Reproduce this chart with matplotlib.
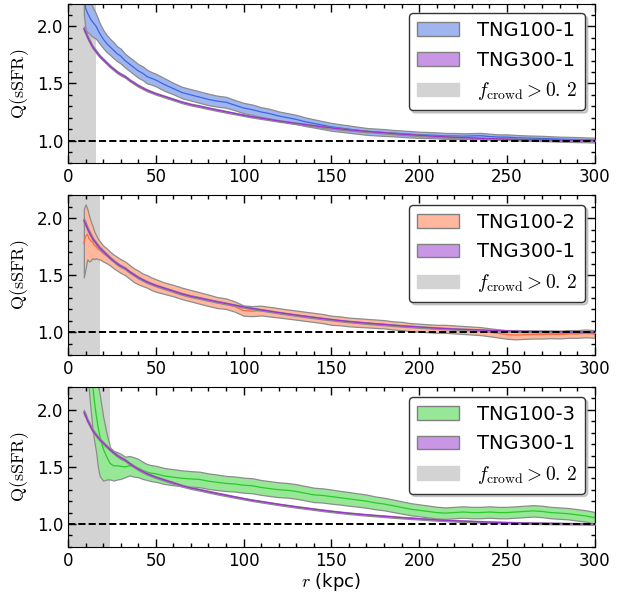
"""
Radial profiles of the quenching ratio Q(sSFR) around host galaxies,
TNG100 runs at three resolutions compared against TNG300-1.
"""
import matplotlib.pyplot as plt
from matplotlib.patches import Patch

plt.rcParams['mathtext.fontset'] = 'cm'

# Size constants
tick_size = 12
label_size = 13
legend_size = 14

# ── Profile data ─────────────────────────────────────────────────────────────

r_kpc = [9, 10, 11, 12, 13, 14, 15, 16, 17, 18, 20, 22, 24, 26, 28, 30,
         32.5, 35, 37.5, 40, 42.5, 45, 47.5, 50, 55, 60, 65, 70, 75, 80, 85,
         90, 95, 100, 105, 110, 115, 120, 125, 130, 135, 140, 145, 150, 155,
         160, 165, 170, 175, 180, 185, 190, 195, 200, 205, 210, 215, 220, 225,
         230, 235, 240, 245, 250, 255, 260, 265, 270, 275, 280, 285, 290, 295,
         300]

q_tng300_1 = [1.98, 1.95, 1.91, 1.88, 1.85, 1.82, 1.80, 1.78, 1.76, 1.74,
              1.71, 1.68, 1.65, 1.625, 1.60, 1.58, 1.56, 1.53, 1.505, 1.48,
              1.46, 1.44, 1.425, 1.41, 1.385, 1.36, 1.335, 1.315, 1.30, 1.283,
              1.267, 1.252, 1.237, 1.222, 1.208, 1.196, 1.184, 1.172, 1.161,
              1.150, 1.140, 1.130, 1.120, 1.111, 1.102, 1.094, 1.087, 1.080,
              1.074, 1.068, 1.062, 1.056, 1.051, 1.046, 1.041, 1.036, 1.032,
              1.028, 1.025, 1.022, 1.019, 1.016, 1.014, 1.012, 1.010, 1.008,
              1.007, 1.006, 1.005, 1.004, 1.003, 1.002, 1.001, 1.000]
err_tng300_1 = [0.02, 0.018, 0.016, 0.015, 0.014, 0.013, 0.012, 0.012, 0.011,
                0.011, 0.011, 0.010, 0.010, 0.010, 0.010, 0.010, 0.009, 0.009,
                0.009, 0.009, 0.009, 0.009, 0.008, 0.008, 0.008, 0.008, 0.008,
                0.008, 0.008, 0.008, 0.008, 0.008, 0.007, 0.007, 0.007, 0.007,
                0.007, 0.007, 0.007, 0.007, 0.007, 0.007, 0.007, 0.007, 0.007,
                0.007, 0.007, 0.007, 0.007, 0.007, 0.007, 0.007, 0.007, 0.007,
                0.007, 0.007, 0.007, 0.007, 0.007, 0.007, 0.007, 0.007, 0.007,
                0.007, 0.007, 0.007, 0.007, 0.007, 0.007, 0.007, 0.007, 0.007,
                0.007, 0.007]

q_tng100_1 = [2.30, 2.16, 2.12, 2.09, 2.06, 2.04, 2.02, 2.00, 1.97, 1.94,
              1.89, 1.85, 1.82, 1.79, 1.76, 1.74, 1.70, 1.67, 1.64, 1.61,
              1.59, 1.56, 1.545, 1.53, 1.49, 1.455, 1.42, 1.40, 1.38, 1.36,
              1.345, 1.335, 1.31, 1.285, 1.27, 1.25, 1.235, 1.215, 1.20, 1.185,
              1.165, 1.15, 1.135, 1.12, 1.11, 1.10, 1.09, 1.08, 1.075, 1.07,
              1.065, 1.06, 1.055, 1.05, 1.048, 1.045, 1.04, 1.04, 1.038, 1.04,
              1.042, 1.035, 1.03, 1.03, 1.025, 1.022, 1.02, 1.018, 1.015,
              1.012, 1.01, 1.008, 1.006, 1.004]
err_tng100_1 = [0.20, 0.19, 0.17, 0.15, 0.14, 0.13, 0.12, 0.11, 0.10, 0.09,
                0.08, 0.075, 0.07, 0.07, 0.065, 0.065, 0.06, 0.06, 0.06, 0.06,
                0.06, 0.06, 0.055, 0.055, 0.055, 0.05, 0.05, 0.05, 0.05, 0.05,
                0.048, 0.048, 0.045, 0.045, 0.045, 0.042, 0.042, 0.04, 0.04,
                0.04, 0.038, 0.036, 0.035, 0.034, 0.033, 0.032, 0.031, 0.03,
                0.03, 0.03, 0.028, 0.028, 0.028, 0.027, 0.027, 0.026, 0.026,
                0.026, 0.025, 0.025, 0.025, 0.025, 0.024, 0.024, 0.024, 0.023,
                0.023, 0.023, 0.022, 0.022, 0.022, 0.022, 0.021, 0.021]

q_tng100_2 = [1.78, 1.84, 1.86, 1.82, 1.80, 1.79, 1.76, 1.75, 1.73, 1.72,
              1.69, 1.67, 1.645, 1.62, 1.60, 1.58, 1.56, 1.53, 1.50, 1.48,
              1.46, 1.445, 1.425, 1.41, 1.385, 1.365, 1.34, 1.32, 1.30, 1.28,
              1.26, 1.25, 1.225, 1.19, 1.185, 1.19, 1.18, 1.17, 1.16, 1.15,
              1.14, 1.13, 1.12, 1.105, 1.10, 1.09, 1.085, 1.08, 1.075, 1.07,
              1.06, 1.055, 1.045, 1.04, 1.035, 1.03, 1.03, 1.025, 1.02, 1.015,
              1.01, 1.00, 0.99, 0.98, 0.975, 0.978, 0.98, 0.98, 0.982, 0.98,
              0.985, 0.985, 0.99, 0.985]
err_tng100_2 = [0.30, 0.28, 0.22, 0.20, 0.17, 0.14, 0.12, 0.10, 0.09, 0.08,
                0.07, 0.065, 0.06, 0.06, 0.06, 0.06, 0.06, 0.06, 0.06, 0.06,
                0.055, 0.055, 0.055, 0.055, 0.05, 0.05, 0.05, 0.05, 0.05, 0.05,
                0.048, 0.046, 0.045, 0.045, 0.044, 0.043, 0.042, 0.041, 0.04,
                0.04, 0.04, 0.04, 0.04, 0.04, 0.039, 0.038, 0.038, 0.037,
                0.037, 0.036, 0.036, 0.036, 0.035, 0.035, 0.035, 0.035, 0.035,
                0.035, 0.035, 0.035, 0.035, 0.035, 0.036, 0.037, 0.037, 0.036,
                0.035, 0.035, 0.034, 0.034, 0.034, 0.034, 0.034, 0.034]

q_tng100_3 = [3.20, 3.00, 2.80, 2.60, 2.40, 2.22, 2.08, 1.96, 1.86, 1.78,
              1.66, 1.59, 1.53, 1.51, 1.51, 1.505, 1.50, 1.51, 1.50, 1.49,
              1.47, 1.455, 1.445, 1.44, 1.42, 1.41, 1.40, 1.395, 1.39, 1.375,
              1.365, 1.355, 1.35, 1.34, 1.335, 1.32, 1.31, 1.30, 1.295, 1.285,
              1.27, 1.255, 1.25, 1.24, 1.23, 1.22, 1.21, 1.20, 1.185, 1.175,
              1.16, 1.145, 1.13, 1.12, 1.11, 1.10, 1.095, 1.10, 1.105, 1.10,
              1.10, 1.105, 1.10, 1.10, 1.105, 1.11, 1.115, 1.11, 1.10, 1.095,
              1.09, 1.08, 1.07, 1.055]
err_tng100_3 = [0.45, 0.45, 0.45, 0.45, 0.42, 0.40, 0.36, 0.33, 0.36, 0.36,
                0.28, 0.20, 0.14, 0.13, 0.12, 0.11, 0.09, 0.085, 0.085, 0.08,
                0.075, 0.07, 0.07, 0.07, 0.07, 0.07, 0.07, 0.068, 0.068, 0.068,
                0.068, 0.066, 0.066, 0.066, 0.066, 0.065, 0.065, 0.065, 0.064,
                0.064, 0.063, 0.063, 0.062, 0.062, 0.06, 0.06, 0.058, 0.058,
                0.056, 0.055, 0.055, 0.054, 0.053, 0.052, 0.052, 0.051, 0.05,
                0.05, 0.05, 0.05, 0.05, 0.05, 0.05, 0.05, 0.05, 0.05, 0.05,
                0.05, 0.05, 0.05, 0.05, 0.05, 0.05, 0.05]

# radius inside which f_crowd > 0.2, one per TNG100 run
r_crowd = [16, 18, 24]

run_names = ['TNG100-1', 'TNG100-2', 'TNG100-3']

# ── Styles ───────────────────────────────────────────────────────────────────

RUN_STYLES = {
    'TNG100-1': {'fill': '#a0b4f0', 'line': '#3a66e0'},
    'TNG100-2': {'fill': '#ffb89e', 'line': '#ff6a3c'},
    'TNG100-3': {'fill': '#96e896', 'line': '#2cc82c'},
    'TNG300-1': {'fill': '#c996e6', 'line': '#9a32d0'},
}
edge_kw = {'edgecolor': '#8c8c8c', 'linewidth': 0.9}
crowd_color = '#d3d3d3'


def draw_profile(ax, q, err, style, zorder):
    lo = [v - e for v, e in zip(q, err)]
    hi = [v + e for v, e in zip(q, err)]
    ax.fill_between(r_kpc, lo, hi, facecolor=style['fill'], zorder=zorder, **edge_kw)
    ax.plot(r_kpc, q, color=style['line'], linewidth=0.9, zorder=zorder + 0.5)


def plot_q_profiles():
    fig, axes = plt.subplots(3, 1, figsize=(6.3, 5.95), dpi=100)
    fig.subplots_adjust(left=0.108, right=0.944, top=0.994, bottom=0.081, hspace=0.2)

    tng100 = [(q_tng100_1, err_tng100_1), (q_tng100_2, err_tng100_2),
              (q_tng100_3, err_tng100_3)]

    for ax, name, (q, err), r_c in zip(axes, run_names, tng100, r_crowd):
        ax.axvspan(0, r_c, color=crowd_color, linewidth=0, zorder=0)
        draw_profile(ax, q, err, RUN_STYLES[name], zorder=2)
        draw_profile(ax, q_tng300_1, err_tng300_1, RUN_STYLES['TNG300-1'], zorder=3)
        ax.axhline(1.0, color='k', linestyle='--', linewidth=1.4, zorder=5)

        ax.set_xlim(0, 300)
        ax.set_ylim(0.8, 2.2)
        ax.set_xticks(range(0, 301, 50))
        ax.set_xticks(range(0, 301, 10), minor=True)
        ax.set_yticks([1.0, 1.5, 2.0])
        ax.set_yticks([0.8 + 0.1 * i for i in range(15)], minor=True)
        ax.tick_params(which='both', direction='in', top=True, right=True,
                       labelsize=tick_size, width=1.0)
        ax.tick_params(which='major', length=6)
        ax.tick_params(which='minor', length=3)
        ax.set_ylabel(r'$\mathrm{Q(sSFR)}$', fontsize=label_size)

        handles = [
            Patch(facecolor=RUN_STYLES[name]['fill'], edgecolor='gray', label=name),
            Patch(facecolor=RUN_STYLES['TNG300-1']['fill'], edgecolor='gray', label='TNG300-1'),
            Patch(facecolor=crowd_color, edgecolor=crowd_color,
                  label=r'$f_{\rm crowd} > 0.\,2$'),
        ]
        leg = ax.legend(handles=handles, loc='upper right', fontsize=legend_size,
                        fancybox=True, shadow={'color': 'gray', 'alpha': 0.35},
                        framealpha=1, labelspacing=0.55, handlelength=2.2,
                        handletextpad=0.9, borderpad=0.4)
        leg.get_frame().set_edgecolor('#333333')
        leg.set_zorder(10)

    axes[2].set_xlabel(r'$r$ (kpc)', fontsize=label_size, labelpad=1)

    plt.savefig('out.png', dpi=100)
    plt.close()


plot_q_profiles()
